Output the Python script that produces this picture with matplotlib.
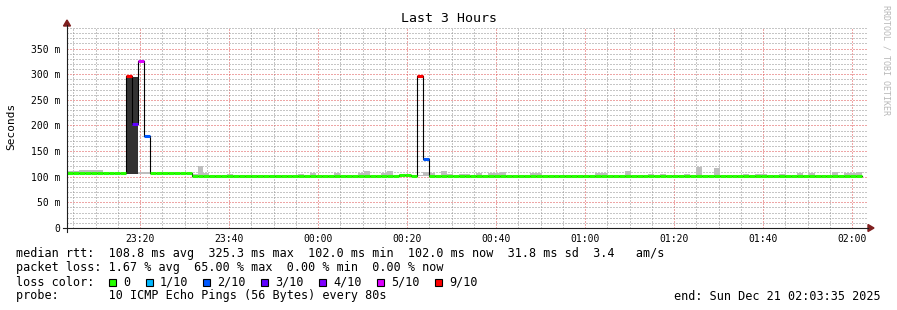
import matplotlib
matplotlib.use("Agg")
import matplotlib.pyplot as plt
import numpy as np
from matplotlib.patches import Rectangle, Polygon
from matplotlib.lines import Line2D

plt.rcParams['font.family'] = ['DejaVu Sans Mono']

# time axis: minutes after 23:00, one sample every 80 s starting 23:03:35
start_min = 3 + 35 / 60
step_min = 80 / 60
end_min = 180 + start_min

# median rtt per sample (ms)
median = ([107.4] * 10 + [297, 202, 325, 180] + [107.4] * 7 + [102.0] * 35
          + [104, 104, 102, 296, 135] + [102.0] * 73)
# loss per sample, in tenths
loss = [0] * 10 + [9, 3, 5, 2] + [0] * 45 + [9, 2] + [0] * 73

# smoke (spread of the pings) per sample
smoke_lo = [106] * 21 + [101] * 113
smoke_hi = [111, 111, 114, 114, 114, 113, 108, 108, 108, 108,
            295, 295, 109, 110, 108, 108, 110, 109, 109, 108,
            108, 106, 121, 108, 103, 103, 104, 106, 103, 103,
            103, 103, 104, 103, 104, 104, 104, 104, 103, 106,
            104, 107, 104, 103, 103, 107, 104, 103, 104, 107,
            111, 104, 103, 107, 111, 104, 105, 105, 103, 103,
            110, 107, 104, 111, 106, 103, 106, 105, 103, 107,
            103, 107, 107, 109, 103, 103, 103, 103, 107, 107,
            104, 103, 103, 103, 103, 104, 104, 103, 103, 107,
            107, 104, 103, 103, 111, 104, 103, 103, 106, 103,
            106, 103, 103, 103, 105, 103, 119, 104, 103, 117,
            104, 103, 103, 103, 106, 103, 106, 106, 103, 103,
            105, 103, 103, 107, 103, 107, 103, 103, 103, 109,
            104, 107, 107, 109]

loss_colors = {0: '#26ff00', 1: '#00b8ff', 2: '#0059ff', 3: '#5e00ff',
               4: '#7e00ff', 5: '#dd00ff', 9: '#ff0000'}
legend_labels = ['0', '1/10', '2/10', '3/10', '4/10', '5/10', '9/10']
legend_keys = [0, 1, 2, 3, 4, 5, 9]

x_ticks = [20, 40, 60, 80, 100, 120, 140, 160, 180]
x_labels = ['23:20', '23:40', '00:00', '00:20', '00:40', '01:00', '01:20', '01:40', '02:00']
y_ticks = [0, 50, 100, 150, 200, 250, 300, 350]
y_labels = ['0', '50 m', '100 m', '150 m', '200 m', '250 m', '300 m', '350 m']

W, H = 897, 310
fig = plt.figure(figsize=(W / 100, H / 100), dpi=100)
fig.patch.set_facecolor('white')
ax = fig.add_axes([67 / W, (H - 228) / H, 801 / W, 201 / H])

n = len(median)
left = [start_min + i * step_min for i in range(n)]
right = [l + step_min for l in left]

# smoke, drawn as stepped areas so neighbouring samples join without seams
edges = left + [right[-1]]
lo = np.array(smoke_lo + [smoke_lo[-1]], dtype=float)
hi = np.array(smoke_hi + [smoke_hi[-1]], dtype=float)
ax.fill_between(edges, lo, hi, step='post', color='#bebebe', lw=0, zorder=2)
dense = hi > 200
dense_edges = np.array(edges)
dmask = dense | np.roll(dense, 1)
ax.fill_between(dense_edges, lo, np.where(dense, hi, lo), where=dmask, step='post',
                color='#333333', lw=0, zorder=2.5)

# median: black step connections, coloured flat parts
ax.plot(edges, median + [median[-1]], drawstyle='steps-post',
        color='black', lw=0.8, zorder=3)
ax.hlines(median, left, right, colors=[loss_colors[l] for l in loss], lw=2.2, zorder=4)

ax.set_xlim(start_min, end_min)
ax.set_ylim(0, 392)
ax.set_xticks(x_ticks)
ax.set_xticklabels(x_labels)
ax.set_xticks([m for m in range(5, 185, 5) if m % 20], minor=True)
ax.set_yticks(y_ticks)
ax.set_yticklabels(y_labels)
ax.set_yticks([v for v in range(10, 400, 10) if v % 50], minor=True)
ax.tick_params(which='both', length=0)
ax.tick_params(axis='y', pad=5, labelsize=7)
ax.tick_params(axis='x', pad=4, labelsize=7)

ax.set_axisbelow(True)
ax.grid(which='minor', color=(0.56, 0.56, 0.56, 0.3), lw=0.72, linestyle=(0, (1, 2)))
ax.grid(which='major', color=(0.87, 0.31, 0.31, 0.4), lw=0.72, linestyle=(0, (1, 2)))
for s in ax.spines.values():
    s.set_visible(False)

# axes with arrows, in pixel coordinates
def fx(px):
    return px / W

def fy(py):
    return 1 - py / H

fig.add_artist(Line2D([fx(63), fx(868)], [fy(228), fy(228)], color='#1f1f1f', lw=0.8))
fig.add_artist(Line2D([fx(67), fx(67)], [fy(232), fy(25)], color='#1f1f1f', lw=0.8))
fig.add_artist(Polygon([(fx(868), fy(224.5)), (fx(874), fy(228)), (fx(868), fy(231.5))],
                       closed=True, color='#7f1f1f', transform=fig.transFigure))
fig.add_artist(Polygon([(fx(63.5), fy(26)), (fx(67), fy(20)), (fx(70.5), fy(26))],
                       closed=True, color='#7f1f1f', transform=fig.transFigure))

fig.text(0.5, fy(19), 'Last 3 Hours', ha='center', va='center', fontsize=9.5)
fig.text(fx(11), fy(126), 'Seconds', rotation=90, ha='center', va='center', fontsize=8)
fig.text(fx(886), fy(60), 'RRDTOOL / TOBI OETIKER', rotation=270, ha='center', va='center',
         fontsize=6, color='#b8b8b8')

fs = 8.5
fig.text(fx(16), fy(254), 'median rtt:  108.8 ms avg  325.3 ms max  102.0 ms min  '
         '102.0 ms now  31.8 ms sd  3.4   am/s', va='center', fontsize=fs)
fig.text(fx(16), fy(268), 'packet loss: 1.67 % avg  65.00 % max  0.00 % min  0.00 % now',
         va='center', fontsize=fs)
fig.text(fx(16), fy(282), 'loss color:', va='center', fontsize=fs)
box_x = [109, 146, 203, 261, 319, 377, 435]
for bx, key, lab in zip(box_x, legend_keys, legend_labels):
    fig.add_artist(Rectangle((fx(bx), fy(285.5)), 7 / W, 7 / H, transform=fig.transFigure,
                             facecolor=loss_colors[key], edgecolor='black', lw=0.8))
    fig.text(fx(bx + 14), fy(282), lab, va='center', fontsize=fs)
fig.text(fx(16), fy(296), 'probe:       10 ICMP Echo Pings (56 Bytes) every 80s',
         va='center', fontsize=fs)
fig.text(fx(881), fy(296), 'end: Sun Dec 21 02:03:35 2025', ha='right', va='center', fontsize=fs)

fig.savefig('out.png', dpi=100)
